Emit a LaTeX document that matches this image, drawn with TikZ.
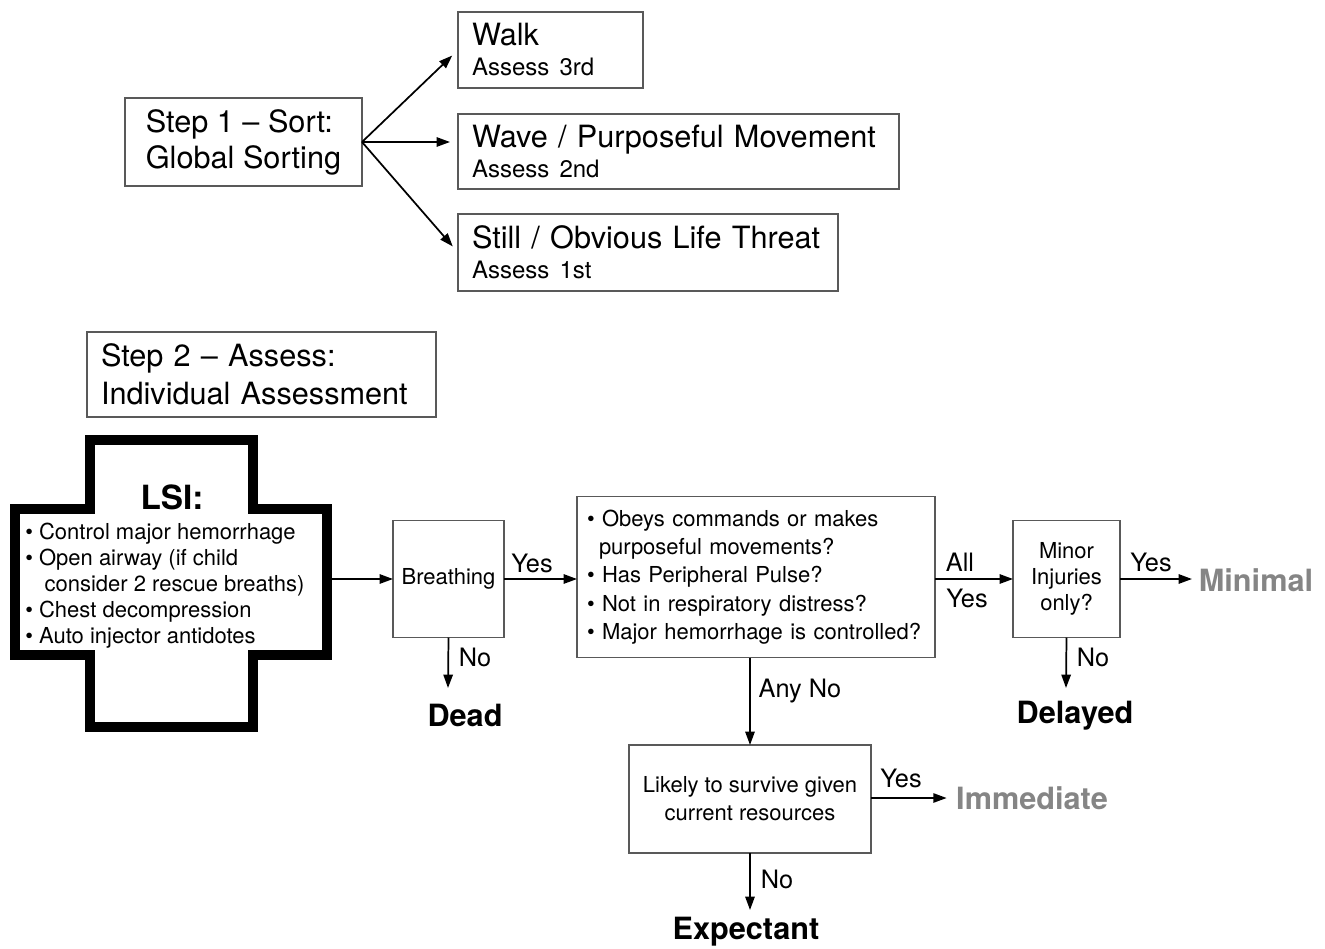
\documentclass[tikz,border=0pt]{standalone}
\usepackage{fontspec}
\setmainfont{TeX Gyre Heros}
\usetikzlibrary{arrows.meta}
\definecolor{boxgray}{gray}{0.35}
\definecolor{outgray}{gray}{0.52}
\begin{document}
\begin{tikzpicture}[x=0.75pt,y=-0.75pt,
  box/.style={draw=boxgray,line width=1.1pt,inner sep=0pt,outer sep=0pt},
  conn/.style={-{Triangle[length=10pt,width=7pt]},line width=1.3pt},
  bigtxt/.style={font=\fontsize{23}{27}\selectfont},
  midtxt/.style={font=\fontsize{16.5}{19.5}\selectfont},
  lbl/.style={font=\fontsize{19}{22}\selectfont,inner sep=0pt},
  outc/.style={font=\fontsize{23}{27}\selectfont\bfseries,inner sep=0pt},
  crossline/.style={line width=7.5pt,line join=miter}
]
\useasboundingbox (0,0) rectangle (1325,949);

% Step 1
\node[box,bigtxt,minimum width=237*0.75pt,minimum height=88*0.75pt,align=left] (step1) at (243.5,142)
  {Step 1 -- Sort:\\Global Sorting};
\node[box,minimum width=185*0.75pt,minimum height=76*0.75pt,text width=157*0.75pt,align=left,
  font=\fontsize{23}{22.5}\selectfont] (walk) at (550.5,50)
  {Walk\\{\fontsize{18}{20}\selectfont Assess 3rd}};
\node[box,minimum width=441*0.75pt,minimum height=75*0.75pt,text width=413*0.75pt,align=left,
  font=\fontsize{23}{22.5}\selectfont] (wave) at (678.5,151.5)
  {Wave / Purposeful Movement\\{\fontsize{18}{20}\selectfont Assess 2nd}};
\node[box,minimum width=380*0.75pt,minimum height=77*0.75pt,text width=352*0.75pt,align=left,
  font=\fontsize{23}{22.5}\selectfont] (still) at (648,252.5)
  {Still / Obvious Life Threat\\{\fontsize{18}{20}\selectfont Assess 1st}};

\draw[conn,shorten >=6pt] (step1.east) -- (walk.west);
\draw[conn,shorten >=6pt] (step1.east) -- (step1.east -| wave.west);
\draw[conn,shorten >=6pt] (step1.east) -- (still.west);

% Step 2
\node[box,minimum width=349*0.75pt,minimum height=85*0.75pt,text width=321*0.75pt,align=left,
  font=\fontsize{23}{28.5}\selectfont] (step2) at (261.5,374.5)
  {Step 2 -- Assess:\\Individual Assessment};

% LSI cross
\draw[crossline] (90,440) -- (253,440) -- (253,509) -- (327,509) -- (327,655) -- (253,655)
  -- (253,727) -- (90,727) -- (90,655) -- (15,655) -- (15,509) -- (90,509) -- cycle;
\node[font=\fontsize{25}{28}\selectfont\bfseries,inner sep=0pt] (lsihead) at (172,497) {LSI:};
\node[midtxt,anchor=north west,inner sep=0pt,align=left] (lsi) at (25,523)
  {\textbullet\ Control major hemorrhage\\
   \textbullet\ Open airway (if child\\
   \hspace*{14.5pt}consider 2 rescue breaths)\\
   \textbullet\ Chest decompression\\
   \textbullet\ Auto injector antidotes};
\coordinate (crossE) at (331,579);

% Breathing
\node[box,midtxt,minimum width=111*0.75pt,minimum height=117*0.75pt] (breath) at (448.5,579) {Breathing};
\draw[conn] (crossE) -- (breath.west);

% Questions
\node[box,midtxt,minimum width=358*0.75pt,minimum height=161*0.75pt,text width=338*0.75pt,align=left,
  font=\fontsize{16.5}{21.2}\selectfont] (quest) at (756,577)
  {\textbullet\ Obeys commands or makes\\
   \hspace*{9pt}purposeful movements?\\
   \textbullet\ Has Peripheral Pulse?\\
   \textbullet\ Not in respiratory distress?\\
   \textbullet\ Major hemorrhage is controlled?};
\draw[conn] (breath.east) -- (breath.east -| quest.west);
\node[lbl] (ybr) at (532,563) {Yes};

% Dead
\coordinate (deadtip) at (448,688);
\draw[conn] (breath.south) -- (deadtip);
\node[lbl] (nbr) at (475,657) {No};
\node[outc] (dead) at (465,715) {Dead};

% Minor
\node[box,midtxt,minimum width=107*0.75pt,minimum height=117*0.75pt,align=center] (minor) at (1066.5,579)
  {Minor\\Injuries\\only?};
\draw[conn] (quest.east |- minor.west) -- (minor.west);
\node[lbl] (lall) at (960,562) {All};
\node[lbl] (lyes) at (967,598) {Yes};

\node[outc,text=outgray] (minimal) at (1256,580) {Minimal};
\draw[conn,shorten >=5pt] (minor.east) -- (minor.east -| minimal.west);
\node[lbl] (ymin) at (1151,562) {Yes};

\coordinate (deltip) at (1066,688);
\draw[conn] (minor.south) -- (deltip);
\node[lbl] (nmin) at (1093,657) {No};
\node[outc] (delayed) at (1075,716) {Delayed};

% Likely
\node[box,minimum width=242*0.75pt,minimum height=108*0.75pt,align=center,
  font=\fontsize{16.5}{21}\selectfont] (likely) at (750,799)
  {Likely to survive given\\current resources};
\draw[conn] (quest.south -| likely.north) -- (likely.north);
\node[lbl] (anyno) at (800,691) {Any No};

\node[outc,text=outgray] (immediate) at (1032,798) {Immediate};
\draw[conn,shorten >=7pt] (likely.east |- immediate.west) -- (immediate.west);
\node[lbl] (ylik) at (901,778) {Yes};

\coordinate (exptip) at (750,910);
\draw[conn] (likely.south) -- (exptip);
\node[lbl] (nlik) at (777,879) {No};
\node[outc] (expectant) at (746,932) {Expectant};
\end{tikzpicture}
\end{document}
